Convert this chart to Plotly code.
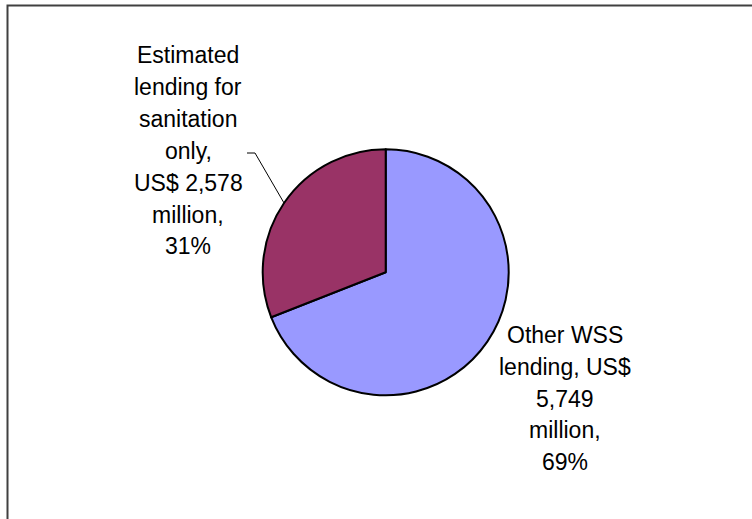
import math
import plotly.graph_objects as go

# Lending split (US$ million)
categories = ["Estimated lending for sanitation only", "Other WSS lending"]
values = [2578, 5749]
colors = ["#993366", "#9999FF"]

# Wrapped label lines; {v} = amount, {p} = percentage
label_lines = [
    ["Estimated", "lending for", "sanitation", "only,", "US$ {v}", "million,", "{p}%"],
    ["Other WSS", "lending, US$", "{v}", "million,", "{p}%"],
]

W, H = 752, 519
CX, CY, R = 385.7, 272.3, 123.0          # pie centre and radius in pixels
LINE_STEP = 31.8
label_anchor = [(188, 55.5), (565, 335.0)]  # centre x, first-line y (pixels)

def px(x):
    return x / W

def py(y):
    return 1 - y / H

total = sum(values)
pcts = [round(100 * v / total) for v in values]

# Drawn clockwise from 12 o'clock in reverse order, so the sanitation
# slice ends at 12 o'clock and sits on the upper left.
fig = go.Figure(go.Pie(
    labels=categories[::-1],
    values=values[::-1],
    sort=False,
    direction="clockwise",
    rotation=0,
    marker=dict(colors=colors[::-1], line=dict(color="#000000", width=2)),
    textinfo="none",
    hoverinfo="label+value+percent",
    showlegend=False,
    domain=dict(x=[px(CX - R), px(CX + R)], y=[py(CY + R), py(CY - R)]),
))

annotations = []
for lines, v, p, (ax, ay) in zip(label_lines, values, pcts, label_anchor):
    for i, line in enumerate(lines):
        annotations.append(dict(
            text=line.format(v=f"{v:,}", p=p),
            x=px(ax), y=py(ay + i * LINE_STEP),
            xref="paper", yref="paper",
            xanchor="center", yanchor="middle",
            showarrow=False,
            font=dict(family="Liberation Sans, Arial, sans-serif", size=23, color="#000000"),
        ))

# Leader line from the middle of the sanitation slice to its label
mid = 2 * math.pi * (values[0] / 2) / total
ex, ey = CX - R * math.sin(mid), CY - R * math.cos(mid)
elbow, end = (255.0, 153.0), (247.0, 153.0)
shapes = [
    dict(type="line", xref="paper", yref="paper",
         x0=px(ex), y0=py(ey), x1=px(elbow[0]), y1=py(elbow[1]),
         line=dict(color="#000000", width=1)),
    dict(type="line", xref="paper", yref="paper",
         x0=px(elbow[0]), y0=py(elbow[1]), x1=px(end[0]), y1=py(end[1]),
         line=dict(color="#000000", width=1)),
    # chart frame
    dict(type="rect", xref="paper", yref="paper",
         x0=px(7.5), y0=-0.05, x1=1.05, y1=py(5.5),
         line=dict(color="#404040", width=2), fillcolor="rgba(0,0,0,0)"),
]

fig.update_layout(
    width=W, height=H,
    margin=dict(l=0, r=0, t=0, b=0),
    paper_bgcolor="#FFFFFF",
    plot_bgcolor="#FFFFFF",
    annotations=annotations,
    shapes=shapes,
)

fig.write_html("out.html")
